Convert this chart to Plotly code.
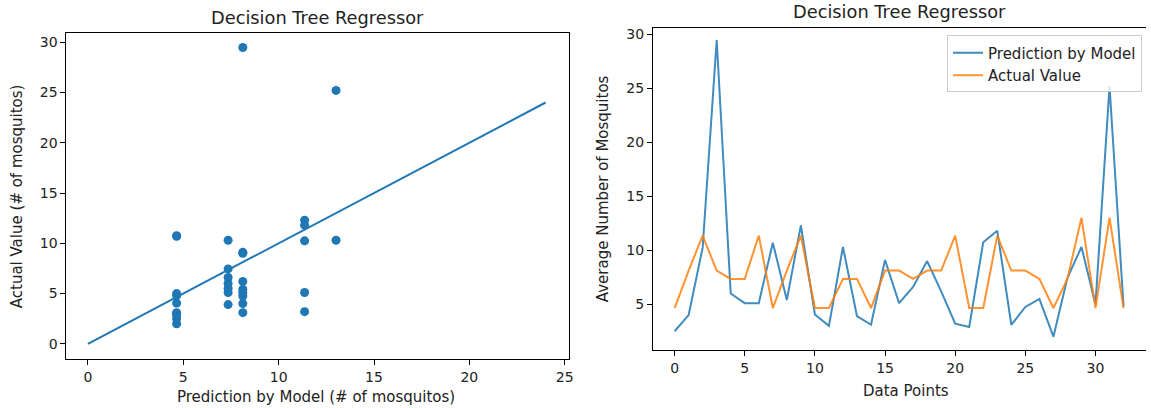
import plotly.graph_objects as go

# ---- data ----
data_points = list(range(33))
actual_value = [4.65, 8.12, 11.36, 8.12, 7.35, 7.35, 11.36, 4.65, 8.12, 11.36, 4.65,
                4.65, 7.35, 7.35, 4.65, 8.12, 8.12, 7.35, 8.12, 8.12, 11.36, 4.65,
                4.65, 11.36, 8.12, 8.12, 7.35, 4.65, 7.35, 13.01, 4.65, 13.01, 4.65]
prediction = [2.5, 4.0, 10.24, 29.47, 6.0, 5.1, 5.1, 10.7, 5.4, 12.3, 4.05,
              3.0, 10.3, 3.9, 3.1, 9.1, 5.1, 6.6, 9.0, 6.2, 3.2, 2.9,
              10.75, 11.8, 3.1, 4.75, 5.5, 2.0, 7.45, 10.3, 5.0, 25.2, 4.8]
ref_line = [0, 24]
left_xticks = [0, 5, 10, 15, 20, 25]
left_yticks = [0, 5, 10, 15, 20, 25, 30]
right_xticks = [0, 5, 10, 15, 20, 25, 30]
right_yticks = [5, 10, 15, 20, 25, 30]

BLUE = "#1f77b4"
ORANGE = "#ff7f0e"
TXT = "#222222"
FONT = "DejaVu Sans"
W, H = 1151, 408

def px(x):
    return x / W

def py(y):
    return 1 - y / H

fig = go.Figure()

fig.add_trace(go.Scatter(x=actual_value, y=prediction, mode="markers",
                         marker=dict(color=BLUE, size=9, line=dict(width=0)),
                         showlegend=False, xaxis="x", yaxis="y"))
fig.add_trace(go.Scatter(x=ref_line, y=ref_line, mode="lines",
                         line=dict(color=BLUE, width=2),
                         showlegend=False, xaxis="x", yaxis="y"))

fig.add_trace(go.Scatter(x=data_points, y=prediction, mode="lines",
                         line=dict(color=BLUE, width=2), opacity=0.85,
                         name="Prediction by Model", xaxis="x2", yaxis="y2"))
fig.add_trace(go.Scatter(x=data_points, y=actual_value, mode="lines",
                         line=dict(color=ORANGE, width=2), opacity=0.85,
                         name="Actual Value", xaxis="x2", yaxis="y2"))

axis_common = dict(showgrid=False, zeroline=False, showline=True, linecolor="black",
                   linewidth=1, ticks="outside", ticklen=5, tickcolor="black",
                   tickwidth=1, tickfont=dict(family=FONT, size=14, color=TXT))

fig.update_layout(
    width=W, height=H,
    margin=dict(l=0, r=0, t=0, b=0),
    paper_bgcolor="white", plot_bgcolor="white",
    font=dict(family=FONT, color=TXT),
    hovermode=False,
    xaxis=dict(domain=[px(66.7), px(571)], range=[-1.13, 25.2],
               tickvals=left_xticks, mirror=True, anchor="y", **axis_common),
    yaxis=dict(domain=[py(359.3), py(32.3)], range=[-1.55, 30.89],
               tickvals=left_yticks, mirror=True, anchor="x", **axis_common),
    xaxis2=dict(domain=[px(655.7), 1.0], range=[-1.55, 33.6],
                tickvals=right_xticks, mirror=True, anchor="y2", **axis_common),
    yaxis2=dict(domain=[py(350), py(26.7)], range=[0.75, 30.62],
                tickvals=right_yticks, mirror=False, anchor="x2", **axis_common),
    legend=dict(x=px(1147), y=py(34.5), xanchor="right", yanchor="top",
                bgcolor="rgba(255,255,255,0.8)", bordercolor="#cccccc", borderwidth=1,
                font=dict(family=FONT, size=15, color=TXT), tracegroupgap=0),
)

ann = []
def text(x, y, s, size=15, angle=0):
    ann.append(dict(x=px(x), y=py(y), xref="paper", yref="paper", text=s,
                    showarrow=False, textangle=angle, xanchor="center", yanchor="middle",
                    font=dict(family=FONT, size=size, color=TXT)))

text(318.9, 16.5, "Decision Tree Regressor", size=17.8)
text(903.4, 10.5, "Decision Tree Regressor", size=17.8)
text(317.5, 396.5, "Prediction by Model (# of mosquitos)")
text(909.5, 391, "Data Points")
text(17, 195.8, "Actual Value (# of mosquitos)", angle=-90)
text(605, 188.3, "Average Number of Mosquitos", angle=-90)
fig.update_layout(annotations=ann)

fig.write_html("out.html", config={"displayModeBar": False},
               post_script="document.body.style.margin='0';document.body.style.overflow='hidden';")
